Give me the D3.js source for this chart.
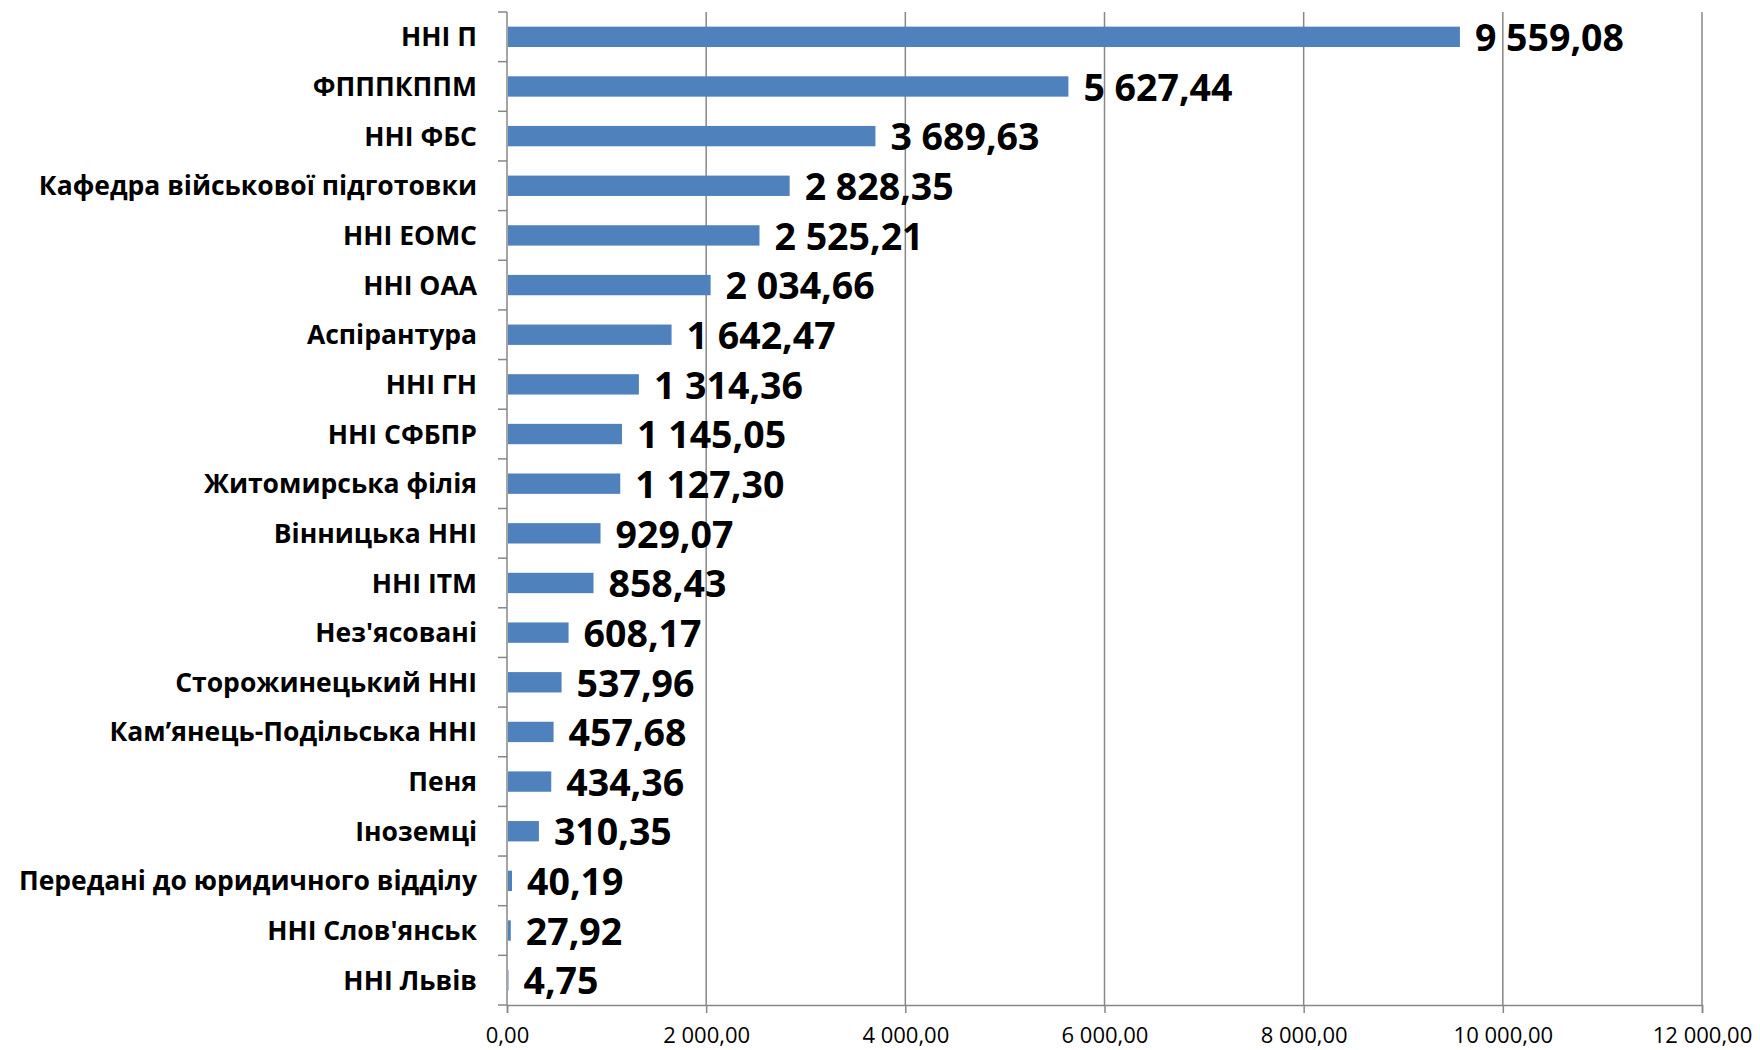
<!DOCTYPE html>
<html>
<head>
<meta charset="utf-8">
<script src="https://cdn.jsdelivr.net/npm/d3@7"></script>
<style>
  html, body { margin: 0; padding: 0; background: #fff; }
  svg { display: block; }
</style>
</head>
<body>
<svg id="chart" width="1760" height="1050"></svg>
<script>
const categories = [
  "ННІ П", "ФПППКППМ", "ННІ ФБС", "Кафедра військової підготовки", "ННІ ЕОМС",
  "ННІ ОАА", "Аспірантура", "ННІ ГН", "ННІ СФБПР", "Житомирська філія",
  "Вінницька ННІ", "ННІ ІТМ", "Нез'ясовані", "Сторожинецький ННІ",
  "Кам’янець-Подільська ННІ", "Пеня", "Іноземці", "Передані до юридичного відділу",
  "ННІ Слов'янськ", "ННІ Львів"
];
const values = [
  9559.08, 5627.44, 3689.63, 2828.35, 2525.21,
  2034.66, 1642.47, 1314.36, 1145.05, 1127.30,
  929.07, 858.43, 608.17, 537.96,
  457.68, 434.36, 310.35, 40.19,
  27.92, 4.75
];
const xTicks = [0, 2000, 4000, 6000, 8000, 10000, 12000];

const data = categories.map((c, i) => ({ c, v: values[i] }));

const svg = d3.select("#chart");
const margin = { left: 507, right: 58, top: 12, bottom: 45 };
const W = 1760, H = 1050;
const x = d3.scaleLinear().domain([0, 12000]).range([margin.left, W - margin.right]);
const y = d3.scaleBand().domain(categories).range([margin.top, H - margin.bottom]).paddingInner(0.59).paddingOuter(0.295);

const loc = d3.formatLocale({ decimal: ",", thousands: " ", grouping: [3], currency: ["", ""] });
const fmt = loc.format(",.2f");

const gridColor = "#878787";

// gridlines
svg.append("g").selectAll("line").data(xTicks.slice(1)).join("line")
  .attr("x1", d => x(d)).attr("x2", d => x(d))
  .attr("y1", margin.top).attr("y2", H - margin.bottom)
  .attr("stroke", gridColor).attr("stroke-width", 1.5);

// x axis
const xAxis = svg.append("g").attr("transform", `translate(0,${H - margin.bottom})`)
  .call(d3.axisBottom(x).tickValues(xTicks).tickFormat(fmt).tickSize(8).tickPadding(14));
xAxis.select(".domain").attr("stroke", gridColor).attr("stroke-width", 1.5);
xAxis.selectAll(".tick line").attr("stroke", gridColor).attr("stroke-width", 1.5);
xAxis.selectAll("text").attr("font-family", "Open Sans").attr("font-size", 22).attr("fill", "#000");

// y axis (category) with ticks at band boundaries
const boundaries = categories.map(c => y(c) - y.step() * y.paddingInner() / 2).concat([H - margin.bottom]);
const yg = svg.append("g");
yg.append("line").attr("x1", x(0)).attr("x2", x(0)).attr("y1", margin.top).attr("y2", H - margin.bottom)
  .attr("stroke", gridColor).attr("stroke-width", 1.5);
yg.selectAll("line.tk").data(boundaries).join("line").attr("class", "tk")
  .attr("x1", x(0) - 9).attr("x2", x(0)).attr("y1", d => d).attr("y2", d => d)
  .attr("stroke", gridColor).attr("stroke-width", 1.5);

// bars
svg.append("g").selectAll("rect").data(data).join("rect")
  .attr("x", x(0) + 1).attr("y", d => y(d.c))
  .attr("width", d => Math.max(0, x(d.v) - x(0)))
  .attr("height", y.bandwidth())
  .attr("fill", "#4F81BD");

// category labels
svg.append("g").selectAll("text").data(data).join("text")
  .attr("x", x(0) - 30).attr("y", d => y(d.c) + y.bandwidth() / 2)
  .attr("dy", "0.36em").attr("text-anchor", "end")
  .attr("font-family", "Open Sans").attr("font-weight", "bold").attr("font-size", 26.5)
  .attr("fill", "#000").text(d => d.c);

// value labels
svg.append("g").selectAll("text").data(data).join("text")
  .attr("x", d => x(d.v) + 16).attr("y", d => y(d.c) + y.bandwidth() / 2)
  .attr("dy", "0.38em").attr("text-anchor", "start")
  .attr("font-family", "Open Sans").attr("font-weight", "bold").attr("font-size", 37.5)
  .attr("fill", "#000").text(d => fmt(d.v));
</script>
</body>
</html>
